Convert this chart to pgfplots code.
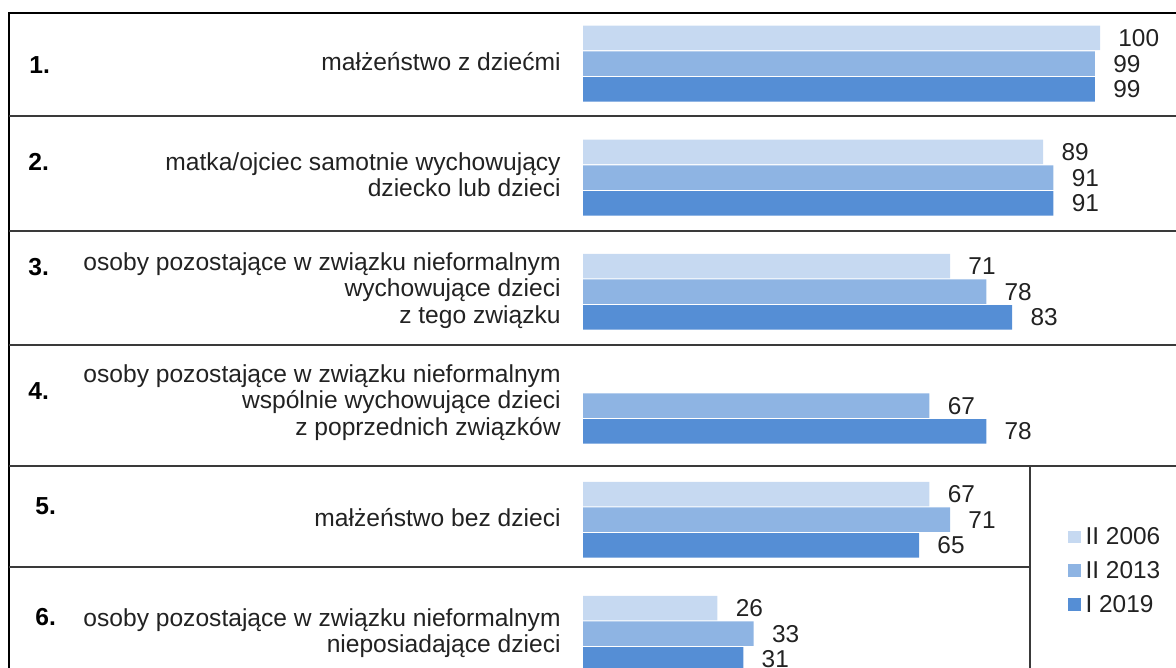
\documentclass[border=0pt]{standalone}
\usepackage{pgfplots}
\pgfplotsset{compat=1.18}
\usepackage{fontspec}
\setmainfont{Liberation Sans}
\definecolor{c06}{HTML}{C6D9F1}
\definecolor{c13}{HTML}{8EB4E3}
\definecolor{c19}{HTML}{558ED5}
\definecolor{txt}{HTML}{222222}
\definecolor{rulec}{HTML}{3A3A3A}
\newcommand\PX[1]{((#1)-583)/5.17}
\begin{document}
\begin{tikzpicture}[font=\fontsize{12.3}{13.35}\selectfont]
\begin{axis}[
  scale only axis, width=588pt, height=334pt,
  xmin=-112.766, xmax=114.700,
  ymin=0, ymax=668, y dir=reverse,
  hide axis, clip=false,
  point meta=x,
  /pgf/number format/assume math mode=true,
  nodes near coords,
  nodes near coords style={anchor=west, inner sep=0pt, xshift=9pt, text=txt, font=\fontsize{12.2}{13.35}\selectfont},
  legend style={at={(axis cs:{\PX{1068}},527)}, anchor=north west, draw=none, fill=none,
    inner sep=0pt, row sep=8.2pt,
    nodes={inner sep=0pt, text height=8.7pt, text depth=0pt, anchor=west, text=txt, font=\fontsize{12.2}{13.35}\selectfont}},
  legend cell align=left,
  legend image code/.code={\fill[#1] (0pt,-3.6pt) rectangle (6.2pt,2.8pt); \path (8.6pt,0pt);},
]
\addplot[xbar, bar width=24.5, bar shift=0pt, fill=c06, draw=none]
  coordinates {(100,38) (89,152) (71,266) (67,494) (26,608)};
\addplot[xbar, bar width=24.5, bar shift=0pt, fill=c13, draw=none]
  coordinates {(99,63.7) (91,177.7) (78,291.7) (67,405.7) (71,519.7) (33,633.7)};
\addplot[xbar, bar width=24.5, bar shift=0pt, fill=c19, draw=none]
  coordinates {(99,89.4) (91,203.4) (83,317.4) (78,431.4) (65,545.4) (31,659.4)};
\legend{II 2006, II 2013, I 2019}

\coordinate (TL) at (axis cs:-112.766,0);
\coordinate (BR) at (axis cs:114.700,668);

% table rules
\draw[line width=1.2pt, black] (axis cs:{\PX{8}},13) -- (axis cs:{\PX{1176}},13);
\draw[line width=1.2pt, black] (axis cs:{\PX{9}},12.4) -- (axis cs:{\PX{9}},668);
\draw[line width=0.75pt, rulec] (axis cs:{\PX{9}},116) -- (axis cs:{\PX{1176}},116);
\draw[line width=0.75pt, rulec] (axis cs:{\PX{9}},231) -- (axis cs:{\PX{1176}},231);
\draw[line width=0.75pt, rulec] (axis cs:{\PX{9}},345) -- (axis cs:{\PX{1176}},345);
\draw[line width=0.75pt, rulec] (axis cs:{\PX{9}},466) -- (axis cs:{\PX{1176}},466);
\draw[line width=0.75pt, rulec] (axis cs:{\PX{9}},567) -- (axis cs:{\PX{1030}},567);
\draw[line width=0.75pt, rulec] (axis cs:{\PX{1030}},466) -- (axis cs:{\PX{1030}},668);

% row numbers
\begin{scope}[every node/.style={anchor=base west, inner sep=0pt, text=black, font=\fontsize{12.3}{13.35}\selectfont\bfseries}]
\node at (axis cs:{\PX{29}},73.5) {1.};
\node at (axis cs:{\PX{28}},170.5) {2.};
\node at (axis cs:{\PX{28}},275) {3.};
\node at (axis cs:{\PX{28}},399.5) {4.};
\node at (axis cs:{\PX{35}},514) {5.};
\node at (axis cs:{\PX{35}},625.5) {6.};
\end{scope}

% category labels
\begin{scope}[every node/.style={anchor=base east, inner sep=0pt, text=txt}]
\node at (axis cs:{\PX{561}},71) {małżeństwo z dziećmi};
\node at (axis cs:{\PX{561}},170) {matka/ojciec samotnie wychowujący};
\node at (axis cs:{\PX{561}},196.7) {dziecko lub dzieci};
\node at (axis cs:{\PX{561}},270) {osoby pozostające w związku nieformalnym};
\node at (axis cs:{\PX{561}},296.7) {wychowujące dzieci};
\node at (axis cs:{\PX{561}},323.4) {z tego związku};
\node at (axis cs:{\PX{561}},382) {osoby pozostające w związku nieformalnym};
\node at (axis cs:{\PX{561}},408.7) {wspólnie wychowujące dzieci};
\node at (axis cs:{\PX{561}},435.4) {z poprzednich związków};
\node at (axis cs:{\PX{561}},526) {małżeństwo bez dzieci};
\node at (axis cs:{\PX{561}},626) {osoby pozostające w związku nieformalnym};
\node at (axis cs:{\PX{561}},652.7) {nieposiadające dzieci};
\end{scope}
\end{axis}
\pgfresetboundingbox
\path (TL) rectangle (BR);
\end{tikzpicture}
\end{document}
